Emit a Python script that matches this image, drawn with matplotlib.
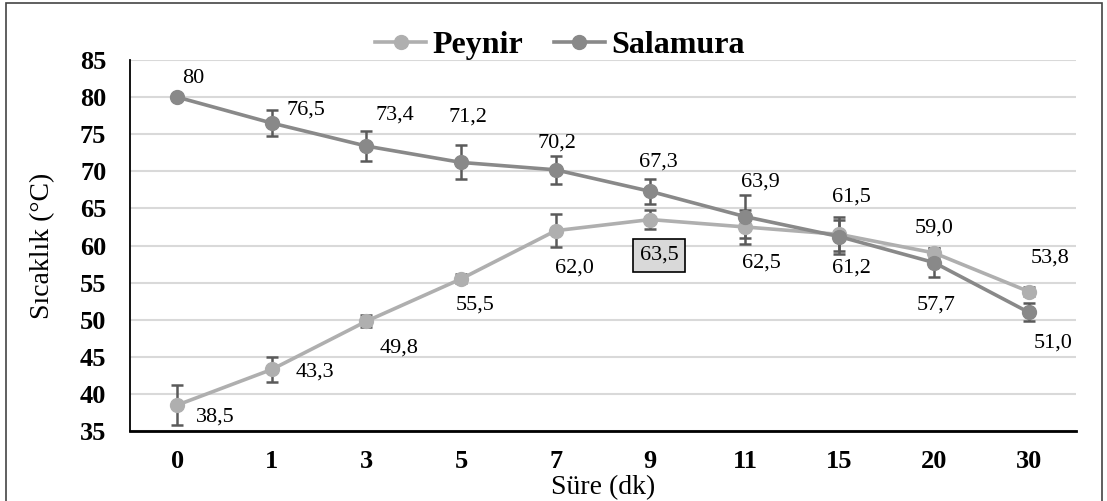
import matplotlib

matplotlib.use("Agg")
import matplotlib.pyplot as plt
from matplotlib.patches import Rectangle

# data
times = ["0", "1", "3", "5", "7", "9", "11", "15", "20", "30"]
peynir = [38.5, 43.3, 49.8, 55.5, 62.0, 63.5, 62.5, 61.5, 59.0, 53.8]
peynir_err = [2.7, 1.7, 0.8, 0.6, 2.2, 1.3, 2.3, 2.3, 0.7, 0.6]
salamura = [80.0, 76.5, 73.4, 71.2, 70.2, 67.3, 63.9, 61.2, 57.7, 51.0]
salamura_err = [0.3, 1.7, 2.0, 2.3, 1.9, 1.7, 2.9, 2.3, 2.0, 1.2]
peynir_labels = ["38,5", "43,3", "49,8", "55,5", "62,0", "63,5", "62,5", "61,5", "59,0", "53,8"]
salamura_labels = ["80", "76,5", "73,4", "71,2", "70,2", "67,3", "63,9", "61,2", "57,7", "51,0"]

# label offsets (pixels, relative to the point)
peynir_off = [(38, -12), (43, -3), (33, -27), (14, -26), (19, -37), (9, -36),
              (17, -36), (12, 37), (0, 25), (21, 33)]
salamura_off = [(16, 19), (34, 13), (28, 31), (7, 45), (1, 27), (8, 29),
                (15, 35), (12, -31), (2, -42), (24, -31)]

plt.rcParams["font.family"] = ["Liberation Serif", "DejaVu Serif"]

c_peynir = "#AFAFAF"
c_salamura = "#898989"
c_err = "#5A5A5A"

fig = plt.figure(figsize=(11.07, 5.01), dpi=100)
ax = fig.add_axes([0.1174, 0.1397, 0.8546, 0.7405])

x = list(range(len(times)))
ax.errorbar(x, peynir, yerr=peynir_err, fmt="none", ecolor=c_err,
            elinewidth=1.8, capsize=4.5, capthick=1.8, zorder=3)
ax.errorbar(x, salamura, yerr=salamura_err, fmt="none", ecolor=c_err,
            elinewidth=1.8, capsize=4.5, capthick=1.8, zorder=3)
ax.plot(x, peynir, color=c_peynir, lw=2.6, marker="o", ms=10,
        label="Peynir", zorder=4)
ax.plot(x, salamura, color=c_salamura, lw=2.6, marker="o", ms=10,
        label="Salamura", zorder=4)

for i in x:
    box = None
    if i == 5:
        box = dict(boxstyle="square,pad=0.3", fc="#D9D9D9", ec="black", lw=1.2)
    ax.annotate(peynir_labels[i], (i, peynir[i]), xytext=peynir_off[i],
                textcoords="offset pixels", ha="center", va="center",
                fontsize=16, bbox=box, zorder=6)
    ax.annotate(salamura_labels[i], (i, salamura[i]), xytext=salamura_off[i],
                textcoords="offset pixels", ha="center", va="center",
                fontsize=16, zorder=6)

ax.set_xlim(-0.5, len(times) - 0.5)
ax.set_ylim(35, 85)
ax.set_yticks(range(35, 86, 5))
ax.set_xticks(x)
ax.set_xticklabels(times)
ax.tick_params(length=0, labelsize=19)
ax.tick_params(axis="y", pad=17)
ax.tick_params(axis="x", pad=14)
for lab in ax.get_xticklabels() + ax.get_yticklabels():
    lab.set_fontweight("bold")
ax.grid(axis="y", color="#D9D9D9", lw=1.5, zorder=0)
ax.set_axisbelow(True)
for s in ("top", "right"):
    ax.spines[s].set_visible(False)
ax.spines["left"].set_linewidth(1.3)
ax.spines["bottom"].set_linewidth(2)

ax.set_ylabel("Sıcaklık (°C)", fontsize=20, labelpad=18)
ax.set_xlabel("Süre (dk)", fontsize=20, labelpad=1)

fig.legend(loc="center", bbox_to_anchor=(0.506, 0.91), ncol=2, frameon=False,
           prop={"size": 23, "weight": "bold"}, handlelength=1.6,
           handletextpad=0.2, columnspacing=0.95)

# outer frame (no bottom edge visible in the source)
fig.add_artist(Rectangle((0.0054, -0.05), 0.99, 1.044, transform=fig.transFigure,
                         fill=False, ec="#444444", lw=1.2))

fig.savefig("out.png", dpi=100)
